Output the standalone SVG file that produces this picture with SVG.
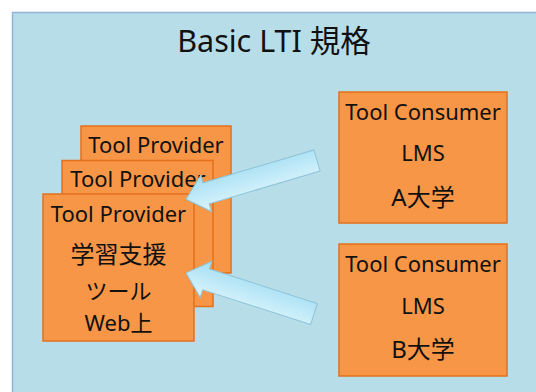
<svg xmlns="http://www.w3.org/2000/svg" width="536" height="392" viewBox="0 0 536 392">
<defs>
<linearGradient id="ag" x1="0" y1="0" x2="0" y2="1">
<stop offset="0" stop-color="#dcf5fd"/>
<stop offset="1" stop-color="#a3def3"/>
</linearGradient>
</defs>
<style>
.box{fill:#f79646;stroke:#e3701c;stroke-width:1.5}
.t{font-family:"Noto Sans","Noto Sans CJK JP",sans-serif;font-size:22px;fill:#111;text-anchor:middle}
.cjk{font-size:24px}
.sm{font-size:22px}
.title{font-family:"Noto Sans","Noto Sans CJK JP",sans-serif;font-size:30.5px;fill:#111;text-anchor:middle}
.arrow{fill:url(#ag);stroke:#8fc3d6;stroke-width:1}
</style>
<rect x="12.5" y="12.5" width="540" height="400" fill="#b7dde8" stroke="#95b3d7" stroke-width="1.5"/>
<text class="title" x="274" y="52">Basic LTI 規格</text>
<g id="provider3">
<rect class="box" x="81" y="126" width="150" height="147"/>
<text class="t" x="156" y="152.5">Tool Provider</text>
</g>
<g id="provider2">
<rect class="box" x="62" y="160.5" width="151" height="146"/>
<text class="t" x="138" y="186.5">Tool Provider</text>
</g>
<g id="provider1">
<rect class="box" x="43" y="194" width="151" height="147"/>
<text class="t" x="118.5" y="221.5">Tool Provider</text>
<text class="t cjk" x="118.5" y="263">学習支援</text>
<text class="t sm" x="118.5" y="298.5">ツール</text>
<text class="t sm" x="118.5" y="331">Web上</text>
</g>
<g id="consumerA">
<rect class="box" x="339" y="92" width="168" height="131"/>
<text class="t" x="423" y="119.5">Tool Consumer</text>
<text class="t" x="423" y="160.5">LMS</text>
<text class="t cjk" x="423" y="206">A大学</text>
</g>
<g id="consumerB">
<rect class="box" x="339" y="244" width="168" height="132"/>
<text class="t" x="423" y="271.5">Tool Consumer</text>
<text class="t" x="423" y="313.5">LMS</text>
<text class="t cjk" x="423" y="358">B大学</text>
</g>
<g id="connectors">
<path class="arrow" transform="translate(317,160.5) rotate(163.5)" d="M0,-11 L115.6,-11 L115.6,-19 L136.6,0 L115.6,19 L115.6,11 L0,11 Z"/>
<path class="arrow" transform="translate(314,314) rotate(197.8)" d="M0,-11 L113.4,-11 L113.4,-19 L134.4,0 L113.4,19 L113.4,11 L0,11 Z"/>
</g>
</svg>
